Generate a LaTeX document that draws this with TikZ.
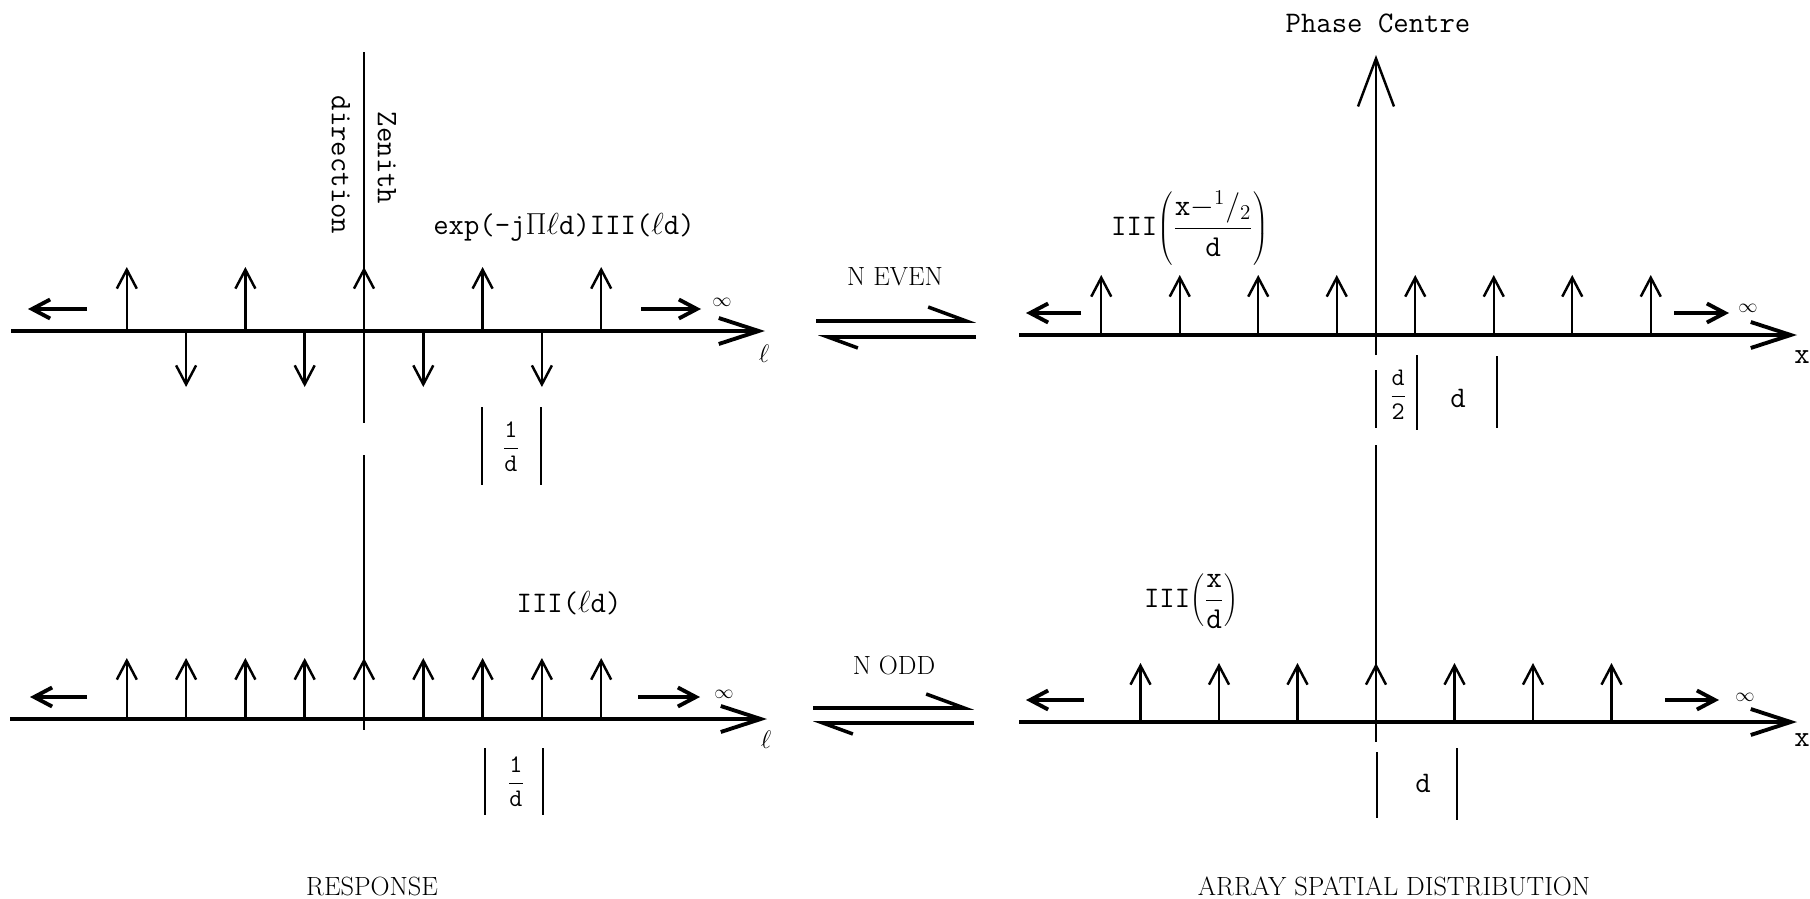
\documentclass[tikz,border=0pt]{standalone}
\usetikzlibrary{arrows.meta}

\begin{document}
\begin{tikzpicture}[
  x=0.02cm, y=-0.02cm,
  axis/.style={line width=2.2pt, -{Straight Barb[length=0.8cm, width=0.52cm]}},
  spike/.style={line width=1.4pt, -{Straight Barb[length=0.38cm, width=0.4cm]}},
  farrow/.style={line width=2.2pt, -{Straight Barb[length=0.36cm, width=0.38cm]}},
  harpr/.style={line width=2pt, -{Straight Barb[left, length=0.76cm, width=0.56cm]}},
  harpl/.style={line width=2pt, -{Straight Barb[left, length=0.6cm, width=0.44cm]}},
  bar/.style={line width=1.6pt},
  zline/.style={line width=1.1pt},
  tw/.style={font=\fontsize{17}{20}\selectfont\ttfamily},
  frc/.style={font=\fontsize{15}{18}\selectfont\ttfamily},
  capt/.style={font=\fontsize{15}{18}\selectfont},
  inf/.style={font=\fontsize{11}{13}\selectfont},
  ell/.style={font=\fontsize{15}{18}\selectfont}
]
\useasboundingbox (0,0) rectangle (1810,899);

% response, N even
\coordinate (le0) at (11,331);
\coordinate (le1) at (765,331);
\draw[zline] (364,52) -- (364,423);
\draw[zline] (364,455) -- (364,730);
\draw[axis] (le0) -- (le1);
\foreach \k in {-4,-2,0,2,4} \draw[spike] (364+\k*59.3,331) -- ++(0,-64);
\foreach \k in {-3,-1,1,3} \draw[spike] (364+\k*59.3,331) -- ++(0,56);
\draw[farrow] (87,309) -- (28,309);
\draw[farrow] (641,309) -- (701,309);
\node[inf] (infle) at (722,302) {$\infty$};
\node[ell] (ellle) at (764,354) {$\ell$};
\node[tw, rotate=-90] (zen) at (387,158) {Zenith};
\node[tw, rotate=-90] (dirn) at (341,165) {direction};
\node[tw] (explbl) at (564,227) {exp(-j$\Pi\ell$d)III($\ell$d)};
\draw[bar] (482,407) -- (482,485);
\draw[bar] (541,407) -- (541,485);
\node[frc] (invde) at (511,447) {$\displaystyle\frac{\mathtt{1}}{\mathtt{d}}$};

% response, N odd
\coordinate (lo0) at (10,719);
\coordinate (lo1) at (767,719);
\draw[axis] (lo0) -- (lo1);
\foreach \k in {-4,...,4} \draw[spike] (364+\k*59.3,719) -- ++(0,-61);
\draw[farrow] (87,697) -- (30,697);
\draw[farrow] (638,697) -- (700,697);
\node[inf] (inflo) at (724,694) {$\infty$};
\node[ell] (elllo) at (766,740) {$\ell$};
\node[tw] (iiilo) at (569,603) {III($\ell$d)};
\draw[bar] (485,748) -- (485,815);
\draw[bar] (543,748) -- (543,815);
\node[frc] (invdo) at (516,782) {$\displaystyle\frac{\mathtt{1}}{\mathtt{d}}$};
\node[capt] (resp) at (372,886) {RESPONSE};

% transform pairs
\node[capt] (neven) at (895,277) {N EVEN};
\draw[harpr] (816,321) -- (976,321);
\draw[harpl] (976,337) -- (818,337);
\node[capt] (nodd) at (894,665) {N ODD};
\draw[harpr] (813,708) -- (974,708);
\draw[harpl] (974,723) -- (813,723);

% array, N even
\coordinate (pc) at (1376,55);
\node[tw] (phase) at (1378,23) {Phase Centre};
\draw[line width=1.4pt, -{Straight Barb[length=0.96cm, width=0.72cm]}] (1376,355) -- (pc);
\coordinate (re0) at (1019,335);
\coordinate (re1) at (1797,335);
\draw[axis] (re0) -- (re1);
\foreach \k in {-4,...,3} \draw[spike] (1376+\k*78.5+39.25,335) -- ++(0,-60);
\draw[farrow] (1081,313) -- (1026,313);
\draw[farrow] (1674,313) -- (1729,313);
\node[inf] (infre) at (1748,308) {$\infty$};
\node[tw] (xre) at (1802,357) {x};
\node[tw] (iiire) at (1190,228) {III$\displaystyle\left(\frac{\mathtt{x-}{}^{1}/{}_{2}}{\mathtt{d}}\right)$};
\draw[bar] (1376,370) -- (1376,428);
\draw[bar] (1417,355) -- (1417,430);
\draw[bar] (1497,356) -- (1497,428);
\node[frc] (halfd) at (1398,395) {$\displaystyle\frac{\mathtt{d}}{\mathtt{2}}$};
\node[tw] (dre) at (1458,398) {d};

% array, N odd
\draw[zline] (1376,445) -- (1376,742);
\coordinate (ro0) at (1019,722);
\coordinate (ro1) at (1797,722);
\draw[axis] (ro0) -- (ro1);
\foreach \k in {-3,...,3} \draw[spike] (1376+\k*78.5,722) -- ++(0,-59);
\draw[farrow] (1084,700) -- (1026,700);
\draw[farrow] (1665,700) -- (1719,700);
\node[inf] (infro) at (1745,697) {$\infty$};
\node[tw] (xro) at (1802,740) {x};
\node[tw] (iiiro) at (1191,601) {III$\displaystyle\left(\frac{\mathtt{x}}{\mathtt{d}}\right)$};
\draw[bar] (1377,752) -- (1377,818);
\draw[bar] (1457,748) -- (1457,820);
\node[tw] (dro) at (1423,783) {d};
\node[capt] (arr) at (1394,886) {ARRAY SPATIAL DISTRIBUTION};
\end{tikzpicture}
\end{document}
